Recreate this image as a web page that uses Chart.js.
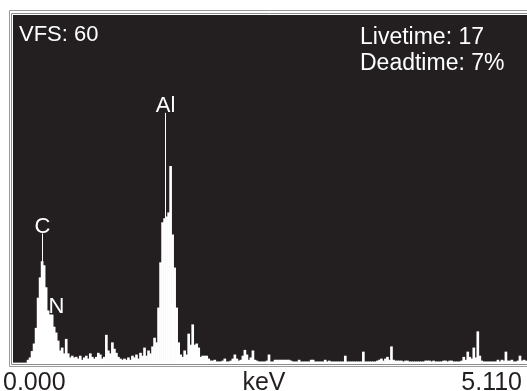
<!DOCTYPE html>
<html>
<head>
<meta charset="utf-8">
<script src="https://cdn.jsdelivr.net/npm/chart.js@4/dist/chart.umd.min.js"></script>
<style>
  html, body { margin: 0; padding: 0; background: #fff; }
  canvas { display: block; }
</style>
</head>
<body>
<canvas id="c" width="527" height="391"></canvas>
<script>
// ---- Data (EDS spectrum, 0.02 keV channels, counts; VFS = 60) ----
const channelWidthKeV = 0.02;
const fullScale = 60;
const counts = [
  0,0,0,0,0,0,0,0.5,0.9,2.0,3.3,6.0,11.2,14.7,17.5,16.8,
  13.0,9.0,8.3,8.3,6.2,5.2,3.8,2.1,2.6,1.6,4.1,1.6,0.9,1.2,0.9,1.0,
  0.7,1.2,0.5,0.9,1.2,0.7,1.6,1.0,0.7,1.0,1.7,1.4,0.7,1.0,4.8,2.1,
  1.6,3.5,2.4,1.7,1.0,0.7,0.5,0.7,0.5,0.9,0.5,1.2,0.9,1.4,0.7,1.7,
  1.2,2.6,1.2,2.1,1.6,2.8,4.3,3.5,9.5,17.3,24.2,24.9,25.2,25.9,33.9,22.1,
  16.4,9.5,3.5,1.4,1.0,2.1,1.4,5.0,3.1,6.6,3.1,3.3,2.6,1.0,1.2,1.2,
  1.2,0.7,0.35,0.35,0.5,0.2,0.2,0.2,0.35,0.7,0.2,0.2,0.35,0.7,1.4,0.7,
  0.35,0.5,1.2,2.2,1.4,0.5,0.9,2.1,0.5,0.35,0.2,0.2,0.2,0.2,0.35,1.4,
  0.2,0.2,0.5,0.5,0.5,0.5,0.5,0.5,0.5,0.5,0.35,0.2,0.2,0.2,0.5,0.2,
  0.2,0.2,0.2,0.2,0.5,0.5,0.2,0.2,0.2,0.2,0.2,0.5,0.2,0.35,0.2,0.2,
  0.2,0.2,0.2,0.2,0.2,1.2,0.2,0.2,0.2,0.2,0.2,0.2,0.2,0.2,1.9,0.2,
  0.2,0.2,0.2,0.2,0.2,0.35,0.5,0.7,0.35,0.7,1.0,0.5,2.8,0.5,0.35,0.35,
  0.35,0.35,0.2,0.35,0.35,0.2,0.2,0.2,0.2,0.2,0.2,0.2,0.2,0.35,0.35,0.35,
  0.2,0.35,0.2,0.2,0.2,0.2,0.35,0.35,0.2,0.35,0.35,0.2,0.2,0.2,0.2,0.35,
  1.0,0.5,1.9,1.0,0.7,2.6,0.9,5.4,1.2,0.35,0.2,0.2,0.2,0.2,0.2,0.2,
  0.2,0.5,0.2,0.5,0.35,1.9,0.35,0.35,0.5,0.2,0.2,0.35,1.2,0.35,0.5,0.35
];
const channelLabels = counts.map((_, i) => ((i + 0.5) * channelWidthKeV).toFixed(2));

// Peak identification labels
const peakNames = ['C', 'N', 'Al'];
const peakKeV = [0.29, 0.42, 1.50];
const peakLabelCounts = [22.5, 8.55, 43.3];
const peakMarkerLine = [true, false, true];

// Annotation texts
const axisStartLabel = '0.000';
const axisUnitLabel = 'keV';
const axisEndLabel = '5.110';
const vfsText = 'VFS: 60';
const liveText = 'Livetime: 17';
const deadText = 'Deadtime: 7%';

const FONT = '"Liberation Sans", Arial, Helvetica, sans-serif';

const framePlugin = {
  id: 'frame',
  beforeDraw(chart) {
    const ctx = chart.ctx;
    const a = chart.chartArea;
    ctx.save();
    ctx.fillStyle = '#ffffff';
    ctx.fillRect(0, 0, chart.width, chart.height);
    ctx.strokeStyle = '#9a9a9a';
    ctx.lineWidth = 1;
    ctx.beginPath();
    ctx.moveTo(chart.width + 1, a.top - 4.5);
    ctx.lineTo(a.left - 3.5, a.top - 4.5);
    ctx.lineTo(a.left - 3.5, a.bottom + 3.5);
    ctx.lineTo(chart.width + 1, a.bottom + 3.5);
    ctx.stroke();
    ctx.fillStyle = '#231f20';
    ctx.fillRect(a.left, a.top, a.right - a.left + 2, a.bottom - a.top);
    ctx.strokeStyle = '#8a8a8a';
    ctx.beginPath();
    ctx.moveTo(chart.width + 1, a.top - 1.5);
    ctx.lineTo(a.left - 1.5, a.top - 1.5);
    ctx.lineTo(a.left - 1.5, a.bottom + 1.5);
    ctx.lineTo(chart.width + 1, a.bottom + 1.5);
    ctx.stroke();
    ctx.restore();
  },
  afterDatasetsDraw(chart) {
    const ctx = chart.ctx;
    const a = chart.chartArea;
    const xs = chart.scales.x;
    const ys = chart.scales.y;
    ctx.save();
    ctx.fillStyle = '#ffffff';
    ctx.strokeStyle = '#ffffff';
    ctx.textBaseline = 'alphabetic';
    ctx.font = '22px ' + FONT;
    ctx.textAlign = 'center';
    peakNames.forEach((name, k) => {
      const idx = Math.floor(peakKeV[k] / channelWidthKeV);
      const px = Math.round(xs.getPixelForValue(idx)) + 0.5;
      const yLabel = ys.getPixelForValue(peakLabelCounts[k]);
      ctx.fillText(name, px, yLabel);
      if (peakMarkerLine[k]) {
        const yTop = ys.getPixelForValue(counts[idx]);
        ctx.lineWidth = 1;
        ctx.beginPath();
        ctx.moveTo(px, yLabel + 1);
        ctx.lineTo(px, yTop);
        ctx.stroke();
      }
    });
    ctx.font = '22px ' + FONT;
    ctx.textAlign = 'left';
    ctx.fillText(vfsText, a.left + 6, a.top + 26);
    ctx.font = '23px ' + FONT;
    ctx.fillText(liveText, a.left + 347, a.top + 29);
    ctx.fillText(deadText, a.left + 347, a.top + 55);
    ctx.fillStyle = '#231f20';
    ctx.font = '25px ' + FONT;
    ctx.textAlign = 'left';
    ctx.fillText(axisStartLabel, a.left - 10, a.bottom + 27);
    ctx.textAlign = 'center';
    ctx.fillText(axisUnitLabel, a.left + 251, a.bottom + 27);
    ctx.textAlign = 'right';
    ctx.fillText(axisEndLabel, a.right - 5, a.bottom + 27);
    ctx.restore();
  }
};

new Chart(document.getElementById('c'), {
  type: 'bar',
  data: {
    labels: channelLabels,
    datasets: [{
      data: counts,
      backgroundColor: '#ffffff',
      borderWidth: 0,
      barPercentage: 1.0,
      categoryPercentage: 1.0
    }]
  },
  options: {
    responsive: false,
    animation: false,
    devicePixelRatio: 1,
    layout: { padding: { left: 13, top: 15, right: 0, bottom: 28 } },
    plugins: { legend: { display: false }, tooltip: { enabled: false } },
    scales: {
      x: { display: false, grid: { display: false } },
      y: { display: false, min: 0, max: fullScale, grid: { display: false } }
    }
  },
  plugins: [framePlugin]
});
</script>
</body>
</html>
